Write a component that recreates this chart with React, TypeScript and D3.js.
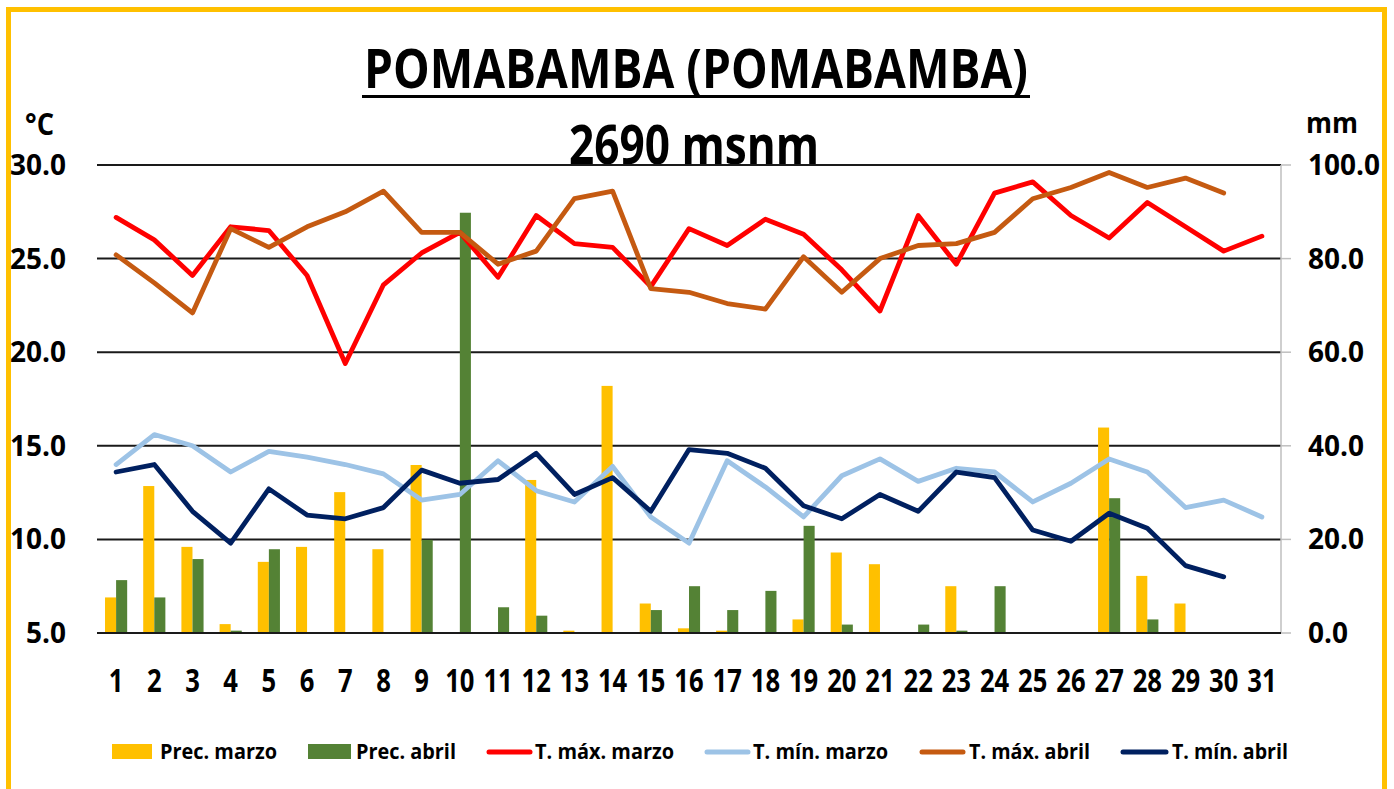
import React from "react";
import * as d3 from "d3";

const days = d3.range(1, 32).map(String);
const precMarzo = [7.6, 31.4, 18.4, 1.9, 15.2, 18.4, 30.1, 17.9, 35.9, 0, 0, 32.7, 0.5, 52.8, 6.3, 1.0, 0.5, 0, 2.9, 17.2, 14.7, 0, 10.0, 0, 0, 0, 43.9, 12.2, 6.3, 0, 0];
const precAbril = [11.3, 7.6, 15.8, 0.5, 17.9, 0, 0, 0, 19.9, 89.8, 5.5, 3.7, 0, 0, 4.9, 10.0, 4.9, 9.0, 22.9, 1.8, 0, 1.8, 0.5, 10.0, 0, 0, 28.8, 2.9, 0, 0, null];
const tMaxMarzo = [27.2, 26.0, 24.1, 26.7, 26.5, 24.1, 19.4, 23.6, 25.3, 26.4, 24.0, 27.3, 25.8, 25.6, 23.5, 26.6, 25.7, 27.1, 26.3, 24.4, 22.2, 27.3, 24.7, 28.5, 29.1, 27.3, 26.1, 28.0, 26.7, 25.4, 26.2];
const tMinMarzo = [14.0, 15.6, 15.0, 13.6, 14.7, 14.4, 14.0, 13.5, 12.1, 12.4, 14.2, 12.6, 12.0, 13.9, 11.2, 9.8, 14.2, 12.8, 11.2, 13.4, 14.3, 13.1, 13.8, 13.6, 12.0, 13.0, 14.3, 13.6, 11.7, 12.1, 11.2];
const tMaxAbril = [25.2, 23.7, 22.1, 26.6, 25.6, 26.7, 27.5, 28.6, 26.4, 26.4, 24.7, 25.4, 28.2, 28.6, 23.4, 23.2, 22.6, 22.3, 25.1, 23.2, 25.0, 25.7, 25.8, 26.4, 28.2, 28.8, 29.6, 28.8, 29.3, 28.5, null];
const tMinAbril = [13.6, 14.0, 11.5, 9.8, 12.7, 11.3, 11.1, 11.7, 13.7, 13.0, 13.2, 14.6, 12.4, 13.3, 11.5, 14.8, 14.6, 13.8, 11.8, 11.1, 12.4, 11.5, 13.6, 13.3, 10.5, 9.9, 11.4, 10.6, 8.6, 8.0, null];
const tempTicks = [5, 10, 15, 20, 25, 30];
const precTicks = [0, 20, 40, 60, 80, 100];

const FONT = "'Open Sans', 'Liberation Sans', sans-serif";
const C_YEL = "#FFC000";
const C_GRN = "#548235";
const C_RED = "#FF0000";
const C_LBL = "#9DC3E6";
const C_BRN = "#C55A11";
const C_NAV = "#002060";

const legendItems = [
  { label: "Prec. marzo", color: C_YEL, type: "bar", x0: 112, x1: 152, tx: 160, tw: 117 },
  { label: "Prec. abril", color: C_GRN, type: "bar", x0: 308, x1: 351, tx: 356, tw: 100 },
  { label: "T. máx. marzo", color: C_RED, type: "line", x0: 487, x1: 532, tx: 535, tw: 139 },
  { label: "T. mín. marzo", color: C_LBL, type: "line", x0: 705, x1: 750, tx: 753, tw: 135 },
  { label: "T. máx. abril", color: C_BRN, type: "line", x0: 920, x1: 965, tx: 969, tw: 121 },
  { label: "T. mín. abril", color: C_NAV, type: "line", x0: 1121, x1: 1168, tx: 1172, tw: 116 },
];

export default function App() {
  const W = 1394, H = 789;
  const left = 97, right = 1281, top = 165, bottom = 633;
  const x = d3.scaleBand().domain(days).range([left, right]).padding(0);
  const yT = d3.scaleLinear().domain([5, 30]).range([bottom, top]);
  const yP = d3.scaleLinear().domain([0, 100]).range([bottom, top]);
  const bw = x.bandwidth() * 0.29;
  const cx = (d: string) => (x(d) as number) + x.bandwidth() / 2;

  const mkLine = (vals: (number | null)[]) =>
    d3
      .line<number | null>()
      .defined((v) => v !== null)
      .x((_, i) => cx(days[i]))
      .y((v) => yT(v as number))(vals) as string;

  const series = [
    { vals: tMaxMarzo, color: C_RED },
    { vals: tMinMarzo, color: C_LBL },
    { vals: tMaxAbril, color: C_BRN },
    { vals: tMinAbril, color: C_NAV },
  ];

  return (
    <svg width={W} height={H} style={{ position: "absolute", left: 0, top: 0, background: "#fff" }} fontFamily={FONT}>
      <rect x={0} y={0} width={W} height={H} fill="#fff" />
      <rect x={8.5} y={9.5} width={1376} height={820} fill="none" stroke={C_YEL} strokeWidth={5} />

      {/* Title */}
      <text x={364} y={88} fontSize={54} fontWeight={700} textLength={664} lengthAdjust="spacingAndGlyphs" fill="#000">
        POMABAMBA (POMABAMBA)
      </text>
      <rect x={362} y={95} width={668} height={3} fill="#000" />
      <text x={569} y={164} fontSize={54} fontWeight={700} textLength={250} lengthAdjust="spacingAndGlyphs" fill="#000">
        2690 msnm
      </text>

      {/* axis titles */}
      <text x={25} y={135} fontSize={30} fontWeight={700} textLength={29} lengthAdjust="spacingAndGlyphs">°C</text>
      <text x={1306} y={133} fontSize={28} fontWeight={700} textLength={52} lengthAdjust="spacingAndGlyphs">mm</text>

      {/* gridlines */}
      {tempTicks.map((t) => (
        <g key={"g" + t}>
          <line x1={left} x2={right} y1={yT(t)} y2={yT(t)} stroke="#1a1a1a" strokeWidth={2} />
          <line x1={right} x2={1291} y1={yT(t)} y2={yT(t)} stroke="#bfbfbf" strokeWidth={1.5} />
        </g>
      ))}
      <line x1={right} x2={right} y1={top} y2={bottom} stroke="#bfbfbf" strokeWidth={1.5} />

      {/* bars */}
      {precMarzo.map((v, i) =>
        v ? (
          <rect key={"m" + i} x={cx(days[i]) - bw} y={yP(v)} width={bw} height={yP(0) - yP(v)} fill={C_YEL} />
        ) : null
      )}
      {precAbril.map((v, i) =>
        v ? (
          <rect key={"a" + i} x={cx(days[i])} y={yP(v)} width={bw} height={yP(0) - yP(v)} fill={C_GRN} />
        ) : null
      )}
      <line x1={left} x2={right} y1={bottom} y2={bottom} stroke="#1a1a1a" strokeWidth={2} />

      {/* lines */}
      {series.map((s, i) => (
        <path key={"s" + i} d={mkLine(s.vals)} fill="none" stroke={s.color} strokeWidth={4.8} strokeLinejoin="round" strokeLinecap="round" />
      ))}

      {/* left ticks */}
      {tempTicks.map((t) => (
        <text key={"lt" + t} x={66} y={yT(t) + 10} textAnchor="end" fontSize={28} fontWeight={700} fill="#000">
          {d3.format(".1f")(t)}
        </text>
      ))}
      {precTicks.map((t) => (
        <text key={"rt" + t} x={1308} y={yP(t) + 10} textAnchor="start" fontSize={28} fontWeight={700} fill="#000">
          {d3.format(".1f")(t)}
        </text>
      ))}
      {days.map((d) => (
        <text key={"x" + d} transform={`translate(${cx(d)},692) scale(0.8,1)`} textAnchor="middle" fontSize={32} fontWeight={700} fill="#000">
          {d}
        </text>
      ))}

      {/* legend */}
      {legendItems.map((it) => (
        <g key={it.label}>
          {it.type === "bar" ? (
            <rect x={it.x0} y={744} width={it.x1 - it.x0} height={15} fill={it.color} />
          ) : (
            <line x1={it.x0 + 2} x2={it.x1 - 2} y1={752} y2={752} stroke={it.color} strokeWidth={5} strokeLinecap="round" />
          )}
          <text x={it.tx} y={759} fontSize={22} fontWeight={700} textLength={it.tw} lengthAdjust="spacingAndGlyphs" fill="#000">
            {it.label}
          </text>
        </g>
      ))}
    </svg>
  );
}
